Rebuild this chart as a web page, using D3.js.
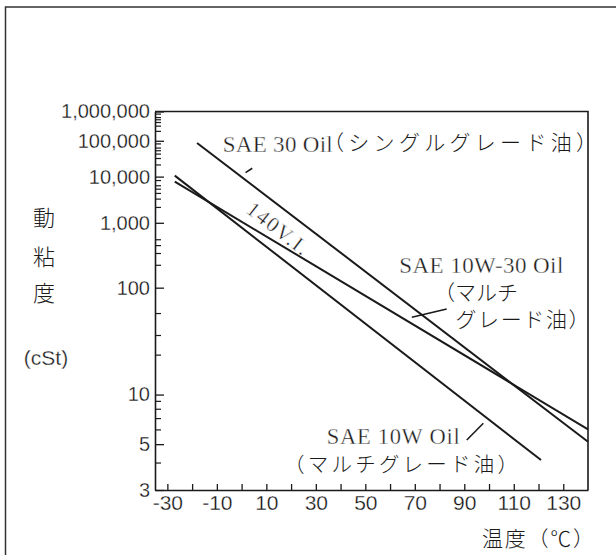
<!DOCTYPE html>
<html><head><meta charset="utf-8">
<script src="https://cdn.jsdelivr.net/npm/d3@7"></script>
<style>
html,body{margin:0;padding:0;background:#fff;}
svg{display:block;}
</style></head>
<body>
<svg id="chart" width="616" height="555"></svg>
<script>
// ---- data ----
const xTickValues = [-30,-20,-10,0,10,20,30,40,50,60,70,80,90,100,110,120,130];
const xTickLabels = ["-30","","-10","","10","","30","","50","","70","","90","","110","","130"];
const yMajorTicks = [3,5,10,100,1000,10000,100000,1000000];
const yMajorLabels = ["3","5","10","100","1,000","10,000","100,000","1,000,000"];
const yMinorTicks = [4,6,7,8,9,20,30,50,200,300,400,500,2000,3000,4000,5000,6000,8000,
  20000,30000,40000,50000,60000,80000,200000,300000,400000,500000,600000,800000];

const sae30Temp = [-18, 140];
const sae30Visc = [85700, 5.15];
const sae10w30Temp = [-27, 140];
const sae10w30Visc = [7530, 6.05];
const sae10wTemp = [-27, 121];
const sae10wVisc = [10570, 4.14];

// leaders (temperature, viscosity)
const leaderSae30 = [[1.6, 12600],[4.3, 16400]];
const leader10w30 = [[68.8, 45.6],[82.9, 56.1]];
const leader10w = [[91.0, 5.27],[97.7, 6.56]];

// ---- scales ----
const astm = v => Math.log10(Math.log10(v + 0.7));
const x = d3.scaleLinear().domain([-35, 140]).range([155, 588]);
const yLin = d3.scaleLinear().domain([astm(3), astm(1000000)]).range([490, 111.5]);
const y = v => yLin(astm(v));

const svg = d3.select("#chart");
const ink = "#1a1a1a";

// outer frame (left + top visible)
svg.append("rect").attr("x",5.5).attr("y",7).attr("width",700).attr("height",700)
  .attr("fill","none").attr("stroke","#333").attr("stroke-width",1.5);

// plot frame (top + right)
svg.append("path")
  .attr("d", `M${x(-35)},${y(1000000)}H${x(140)}V${y(3)}`)
  .attr("fill","none").attr("stroke",ink).attr("stroke-width",1.6);

function thin(sel, w) {
  sel.attr("stroke","#fff").attr("stroke-width",w).attr("paint-order","normal");
}

// y axis
const yAxis = d3.axisLeft(yLin)
  .tickValues(yMajorTicks.map(astm))
  .tickFormat((d,i)=>yMajorLabels[i])
  .tickSizeInner(-9).tickSizeOuter(0).tickPadding(5);
const gy = svg.append("g").attr("transform",`translate(${x(-35)},0)`).call(yAxis);
gy.select(".domain").attr("stroke",ink).attr("stroke-width",1.6);
gy.selectAll(".tick line").attr("stroke",ink).attr("stroke-width",1.3);
gy.selectAll("text").attr("font-family","'Liberation Sans', Arial, sans-serif")
  .attr("font-size",20).attr("fill","#111").call(thin, 0.3);
gy.selectAll(".minor").data(yMinorTicks).enter().append("line")
  .attr("class","minor").attr("x1",0).attr("x2",6)
  .attr("y1",d=>y(d)).attr("y2",d=>y(d)).attr("stroke",ink).attr("stroke-width",1.2);

// x axis
const xAxis = d3.axisBottom(x)
  .tickValues(xTickValues)
  .tickFormat((d,i)=>xTickLabels[i])
  .tickSizeInner(-6).tickSizeOuter(0).tickPadding(5);
const gx = svg.append("g").attr("transform",`translate(0,${y(3)})`).call(xAxis);
gx.select(".domain").attr("stroke",ink).attr("stroke-width",1.6);
gx.selectAll(".tick line").attr("stroke",ink).attr("stroke-width",1.3);
gx.selectAll("text").attr("font-family","'Liberation Sans', Arial, sans-serif")
  .attr("font-size",21).attr("fill","#111").call(thin, 0.3);

// lines
const line = d3.line().x(d=>x(d[0])).y(d=>y(d[1]));
const series = [
  d3.zip(sae30Temp, sae30Visc),
  d3.zip(sae10w30Temp, sae10w30Visc),
  d3.zip(sae10wTemp, sae10wVisc)
];
svg.selectAll(".series").data(series).enter().append("path")
  .attr("class","series").attr("d",line)
  .attr("fill","none").attr("stroke",ink).attr("stroke-width",2);

svg.selectAll(".leader").data([leaderSae30, leader10w30, leader10w]).enter().append("path")
  .attr("class","leader").attr("d",line)
  .attr("fill","none").attr("stroke",ink).attr("stroke-width",1.6);

// text
const serif = "'Liberation Serif', 'Times New Roman', serif";
const cjk = "'Noto Sans CJK JP', sans-serif";
function txt(s, xx, yy, font, size, opts={}) {
  const t = svg.append("text").attr("x",xx).attr("y",yy).text(s)
    .attr("font-family",font).attr("font-size",size).attr("fill","#1a1a1a");
  if (opts.len) t.attr("textLength",opts.len).attr("lengthAdjust","spacing");
  if (opts.anchor) t.attr("text-anchor",opts.anchor);
  if (opts.weight) t.attr("font-weight",opts.weight);
  if (opts.thin) t.call(thin, opts.thin);
  return t;
}
txt("SAE 30 Oil", 222.7, 151.5, serif, 23, {len:110, thin:0.35});
txt("（シングルグレード油）", 323, 150, cjk, 21, {len:274, weight:300});
txt("SAE 10W-30 Oil", 399.3, 273.3, serif, 23, {len:164, thin:0.35});
txt("（マルチ", 434, 299.5, cjk, 21, {weight:300});
txt("グレード油）", 455.5, 326.5, cjk, 21, {len:134, weight:300});
txt("SAE 10W Oil", 326.7, 443.5, serif, 22.5, {len:133, thin:0.35});
txt("（マルチグレード油）", 284, 471.5, cjk, 20.5, {len:234, weight:300});
txt("温度（℃）", 482, 546, cjk, 21, {len:112, weight:300});

svg.append("text").text("140V.I.")
  .attr("transform","translate(278,228) rotate(38)")
  .attr("text-anchor","middle").attr("dy","0.35em")
  .attr("font-family",serif).attr("font-size",21).attr("fill","#1a1a1a")
  .attr("textLength",72).attr("lengthAdjust","spacing").call(thin, 0.35);

txt("動", 44, 226, cjk, 22, {anchor:"middle", weight:300});
txt("粘", 44, 264.5, cjk, 22, {anchor:"middle", weight:300});
txt("度", 44, 300.5, cjk, 22, {anchor:"middle", weight:300});
txt("(cSt)", 46, 365, "'Liberation Sans', Arial, sans-serif", 21, {anchor:"middle", thin:0.3});
</script>
</body></html>
